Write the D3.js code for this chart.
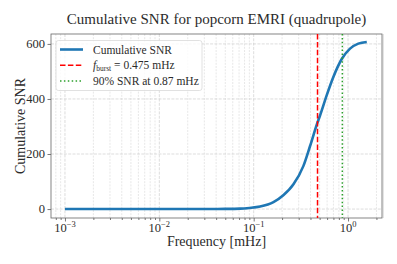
<!DOCTYPE html>
<html>
<head>
<meta charset="utf-8">
<script src="https://cdn.jsdelivr.net/npm/d3@7"></script>
<style>
  html, body { margin: 0; padding: 0; background: #fff; }
  svg { display: block; }
  text { font-family: "Liberation Serif", "DejaVu Serif", serif; fill: #2b2b2b; }
</style>
</head>
<body>
<svg id="chart"></svg>
<script>
// Cumulative SNR curve
const freqs = [0.001, 0.003, 0.01, 0.03, 0.05, 0.0718, 0.09, 0.117, 0.162, 0.206, 0.264, 0.336, 0.396, 0.473, 0.505, 0.595, 0.699, 0.864, 1.05, 1.285, 1.58];
const snr   = [0, 0, 0, 0.1, 0.5, 1.5, 4, 9, 25, 50, 90, 156, 229, 313, 340, 414, 480, 547, 583, 601, 607];

const fBurst = 0.475;
const f90 = 0.87;

const yTicks = [0, 200, 400, 600];
const xDecades = [-3, -2, -1, 0];

const legendLabels = ["Cumulative SNR", "= 0.475 mHz", "90% SNR at 0.87 mHz"];

const W = 397, H = 264;
const margin = {top: 34, right: 15, bottom: 46, left: 51};
const width = W - margin.left - margin.right;
const height = H - margin.top - margin.bottom;

const svg = d3.select('#chart').attr('width', W).attr('height', H);
const chart = svg.append('g').attr('transform', `translate(${margin.left},${margin.top})`);

const xScale = d3.scaleLog()
    .domain([Math.pow(10, -3.148), Math.pow(10, 0.36)])
    .range([0, width]);
const yScale = d3.scaleLinear()
    .domain([-32.5, 636])
    .range([height, 0]);

// minor ticks 2..9 in each decade
const minorTicks = [];
for (let e = -4; e <= 0; e++) {
  for (let m = 2; m <= 9; m++) {
    const v = m * Math.pow(10, e);
    if (v >= xScale.domain()[0] && v <= xScale.domain()[1]) minorTicks.push(v);
  }
}
const majorTicks = xDecades.map(e => Math.pow(10, e));

// grid
chart.append('g').selectAll('line')
    .data(minorTicks)
  .join('line')
    .attr('x1', d => xScale(d)).attr('x2', d => xScale(d))
    .attr('y1', 0).attr('y2', height)
    .attr('stroke', '#d6d6d6').attr('stroke-width', 0.6)
    .attr('stroke-dasharray', '2,1.2');
chart.append('g').selectAll('line')
    .data(majorTicks)
  .join('line')
    .attr('x1', d => xScale(d)).attr('x2', d => xScale(d))
    .attr('y1', 0).attr('y2', height)
    .attr('stroke', '#cfcfcf').attr('stroke-width', 0.7)
    .attr('stroke-dasharray', '3,1.3');
chart.append('g').selectAll('line')
    .data(yTicks)
  .join('line')
    .attr('x1', 0).attr('x2', width)
    .attr('y1', d => yScale(d)).attr('y2', d => yScale(d))
    .attr('stroke', '#cfcfcf').attr('stroke-width', 0.7)
    .attr('stroke-dasharray', '3,1.3');

// axes
const xAxisG = chart.append('g')
    .attr('transform', `translate(0,${height})`)
    .call(d3.axisBottom(xScale).tickValues(majorTicks).tickSize(3.5).tickSizeOuter(0).tickFormat(''));
chart.append('g')
    .attr('transform', `translate(0,${height})`)
    .call(d3.axisBottom(xScale).tickValues(minorTicks).tickSize(2).tickSizeOuter(0).tickFormat(''))
    .call(g => g.select('.domain').remove());
const yAxisG = chart.append('g')
    .call(d3.axisLeft(yScale).tickValues(yTicks).tickSize(3.5).tickSizeOuter(0).tickFormat(''));
[xAxisG, yAxisG].forEach(g => g.select('.domain').remove());
chart.selectAll('.tick line').attr('stroke', '#555').attr('stroke-width', 0.8);

// x tick labels 10^e
chart.append('g').selectAll('text')
    .data(xDecades)
  .join('text')
    .attr('x', d => xScale(Math.pow(10, d)))
    .attr('y', height + 14)
    .attr('text-anchor', 'middle')
    .style('font-size', '12.5px')
    .each(function(d) {
      const t = d3.select(this);
      t.append('tspan').text('10');
      t.append('tspan').attr('dy', -5).style('font-size', '8.5px').text(d === 0 ? '0' : '\u2212' + (-d));
    });

// y tick labels
chart.append('g').selectAll('text')
    .data(yTicks)
  .join('text')
    .attr('x', -6)
    .attr('y', d => yScale(d))
    .attr('dy', '0.35em')
    .attr('text-anchor', 'end')
    .style('font-size', '12.5px')
    .text(d => d);

// frame
chart.append('rect')
    .attr('width', width).attr('height', height)
    .attr('fill', 'none').attr('stroke', '#666').attr('stroke-width', 0.8);
chart.append('line')
    .attr('x1', width + 0.8).attr('x2', width + 0.8).attr('y1', 0).attr('y2', height)
    .attr('stroke', '#bbb').attr('stroke-width', 1.2);

// curve
const line = d3.line()
    .x((d, i) => xScale(freqs[i]))
    .y(d => yScale(d))
    .curve(d3.curveMonotoneX);
chart.append('path')
    .datum(snr)
    .attr('d', line)
    .attr('fill', 'none')
    .attr('stroke', '#1f77b4')
    .attr('stroke-width', 2.6)
    .attr('stroke-linecap', 'butt');

// vertical markers
chart.append('line')
    .attr('x1', xScale(fBurst)).attr('x2', xScale(fBurst))
    .attr('y1', 0).attr('y2', height)
    .attr('stroke', '#ff0000').attr('stroke-width', 1.5)
    .attr('stroke-dasharray', '5.5,2.4');
chart.append('line')
    .attr('x1', xScale(f90)).attr('x2', xScale(f90))
    .attr('y1', 0).attr('y2', height)
    .attr('stroke', '#2ca02c').attr('stroke-width', 1.5)
    .attr('stroke-dasharray', '1.5,2.4');

// legend
const legend = chart.append('g').attr('transform', 'translate(5,6.5)');
legend.append('rect')
    .attr('width', 146).attr('height', 50).attr('rx', 2.5)
    .attr('fill', 'rgba(255,255,255,0.8)').attr('stroke', '#d9d9d9').attr('stroke-width', 0.8);
const rows = [
  {stroke: '#1f77b4', w: 2.6, dash: null},
  {stroke: '#ff0000', w: 1.5, dash: '5.5,2.4'},
  {stroke: '#2ca02c', w: 1.5, dash: '1.5,2.4'}
];
rows.forEach((r, i) => {
  const y = 9 + i * 15.8;
  legend.append('line')
      .attr('x1', 4).attr('x2', 27).attr('y1', y).attr('y2', y)
      .attr('stroke', r.stroke).attr('stroke-width', r.w)
      .attr('stroke-dasharray', r.dash);
  const t = legend.append('text')
      .attr('x', 37).attr('y', y).attr('dy', '0.35em')
      .style('font-size', '11.5px');
  if (i === 1) {
    t.append('tspan').style('font-style', 'italic').text('f');
    t.append('tspan').attr('dy', 2).style('font-size', '7.5px').text('burst');
    t.append('tspan').attr('dy', -2).text(' ' + legendLabels[i]);
  } else {
    t.text(legendLabels[i]);
  }
});

// titles
svg.append('text')
    .attr('x', margin.left + width / 2).attr('y', 24)
    .attr('text-anchor', 'middle')
    .style('font-size', '15px')
    .text('Cumulative SNR for popcorn EMRI (quadrupole)');
svg.append('text')
    .attr('x', margin.left + width / 2).attr('y', 245.5)
    .attr('text-anchor', 'middle')
    .style('font-size', '14px')
    .text('Frequency [mHz]');
svg.append('text')
    .attr('transform', `translate(25,${margin.top + height / 2}) rotate(-90)`)
    .attr('text-anchor', 'middle')
    .style('font-size', '14px')
    .text('Cumulative SNR');
</script>
</body>
</html>
